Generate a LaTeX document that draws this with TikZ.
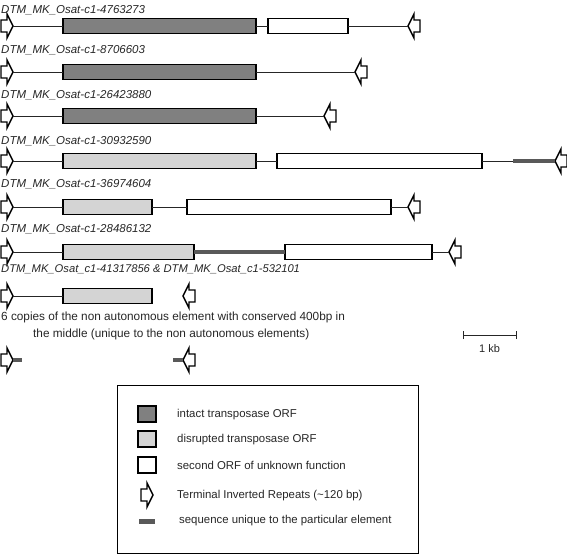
\documentclass[tikz,border=0pt]{standalone}
\usepackage{fontspec}
\setmainfont{Liberation Sans}
\definecolor{orfdark}{gray}{0.5}
\definecolor{orflight}{gray}{0.83}
\definecolor{unicol}{gray}{0.35}
\begin{document}
\begin{tikzpicture}[x=1pt,y=-1pt,
  orf/.style={draw=black, line width=1.3pt, minimum height=15pt, inner sep=0pt, outer sep=0pt, anchor=west},
  intact/.style={orf, fill=orfdark},
  disr/.style={orf, fill=orflight},
  second/.style={orf, fill=white},
  link/.style={draw=black!85, line width=1pt},
  uniq/.style={draw=unicol, line width=4pt},
  tirstyle/.style={draw=black, line width=1.4pt, fill=white, line join=miter},
  lbl/.style={font=\fontsize{11.5}{13}\selectfont\itshape, anchor=base west, inner sep=0pt, text=black!85},
  txt/.style={font=\fontsize{11.4}{13}\selectfont, anchor=base west, inner sep=0pt, text=black!85},
  desc/.style={font=\fontsize{11.8}{13}\selectfont, anchor=base west, inner sep=0pt, text=black!85},
  tirR/.pic={\draw[tirstyle] (0,-6) -- (6,-6) -- (6,-12) -- (12,0) -- (6,12) -- (6,6) -- (0,6) -- cycle; \coordinate (-tip) at (12,0);},
  tirL/.pic={\draw[tirstyle] (0,0) -- (6,-12) -- (6,-6) -- (12,-6) -- (12,6) -- (6,6) -- (6,12) -- cycle; \coordinate (-tip) at (0,0);}
]
\useasboundingbox (0,0) rectangle (567,555);

% Row 1
\node[lbl] (t1) at (1,13) {DTM\_MK\_Osat-c1-4763273};
\pic (r1) at (1,26) {tirR};
\node[intact, minimum width=193pt] (k1) at (63,26) {};
\node[second, minimum width=80pt] (s1) at (268,26) {};
\pic (l1) at (408,26) {tirL};
\draw[link] (r1-tip) -- (k1.west);
\draw[link] (k1.east) -- (s1.west);
\draw[link] (s1.east) -- (l1-tip);

% Row 2
\node[lbl] (t2) at (1,53) {DTM\_MK\_Osat-c1-8706603};
\pic (r2) at (1,72) {tirR};
\node[intact, minimum width=193pt] (k2) at (63,72) {};
\pic (l2) at (355,72) {tirL};
\draw[link] (r2-tip) -- (k2.west);
\draw[link] (k2.east) -- (l2-tip);

% Row 3
\node[lbl] (t3) at (1,98) {DTM\_MK\_Osat-c1-26423880};
\pic (r3) at (1,116) {tirR};
\node[intact, minimum width=193pt] (k3) at (63,116) {};
\pic (l3) at (324,116) {tirL};
\draw[link] (r3-tip) -- (k3.west);
\draw[link] (k3.east) -- (l3-tip);

% Row 4
\node[lbl] (t4) at (1,144) {DTM\_MK\_Osat-c1-30932590};
\pic (r4) at (1,161) {tirR};
\node[disr, minimum width=193pt] (d4) at (63,161) {};
\node[second, minimum width=205pt] (s4) at (277,161) {};
\coordinate (u4) at (513,161);
\pic (l4) at (555,161) {tirL};
\draw[link] (r4-tip) -- (d4.west);
\draw[link] (d4.east) -- (s4.west);
\draw[link] (s4.east) -- (u4);
\draw[uniq] (u4) -- (l4-tip);

% Row 5
\node[lbl] (t5) at (1,187) {DTM\_MK\_Osat-c1-36974604};
\pic (r5) at (1,207) {tirR};
\node[disr, minimum width=89pt] (d5) at (63,207) {};
\node[second, minimum width=204pt] (s5) at (187,207) {};
\pic (l5) at (408,207) {tirL};
\draw[link] (r5-tip) -- (d5.west);
\draw[link] (d5.east) -- (s5.west);
\draw[link] (s5.east) -- (l5-tip);

% Row 6
\node[lbl] (t6) at (1,232) {DTM\_MK\_Osat-c1-28486132};
\pic (r6) at (1,252) {tirR};
\node[disr, minimum width=131pt] (d6) at (63,252) {};
\node[second, minimum width=147pt] (s6) at (285,252) {};
\pic (l6) at (449,252) {tirL};
\draw[link] (r6-tip) -- (d6.west);
\draw[uniq] (d6.east) -- (s6.west);
\draw[link] (s6.east) -- (l6-tip);

% Row 7
\node[lbl, font=\fontsize{11.2}{13}\selectfont\itshape] (t7) at (1,272) {DTM\_MK\_Osat\_c1-41317856 \& DTM\_MK\_Osat\_c1-532101};
\pic (r7) at (1,296) {tirR};
\node[disr, minimum width=89pt] (d7) at (63,296) {};
\pic (l7) at (183,296) {tirL};
\draw[link] (r7-tip) -- (d7.west);

\node[desc] (n1) at (1,320) {6 copies of the non autonomous element with conserved 400bp in};
\node[desc] (n2) at (33,337) {the middle (unique to the non autonomous elements)};

% Row 8
\pic (r8) at (1,360) {tirR};
\coordinate (u8a) at (22,360);
\draw[uniq] (r8-tip) -- (u8a);
\coordinate (u8b) at (173,360);
\pic (l8) at (183,360) {tirL};
\draw[uniq] (u8b) -- (l8-tip);

% Scale bar
\coordinate (sb1) at (463,335);
\coordinate (sb2) at (516,335);
\draw[line width=1pt, black!85] (sb1) -- (sb2);
\draw[line width=1pt, black!85] ([yshift=-4pt]sb1) -- ([yshift=4pt]sb1);
\draw[line width=1pt, black!85] ([yshift=-4pt]sb2) -- ([yshift=4pt]sb2);
\node[txt, anchor=base, font=\fontsize{11}{13}\selectfont] (kb) at (489.5,352) {1 kb};

% Legend
\node[draw=black, line width=1.3pt, minimum width=301pt, minimum height=168pt, anchor=north west, inner sep=0pt] (legend) at (117,385) {};
\node[intact, minimum width=18pt, minimum height=16pt] (lk) at (138,414) {};
\node[disr, minimum width=18pt, minimum height=16pt] (ld) at (138,439) {};
\node[second, minimum width=18pt, minimum height=16pt] (ls) at (138,465) {};
\pic (lt) at (141,495) {tirR};
\node[fill=unicol, minimum width=16pt, minimum height=5pt, inner sep=0pt, anchor=west] (lu) at (139,521.5) {};
\node[txt, anchor=west] (tk) at (177,414.5) {intact transposase ORF};
\node[txt, anchor=west] (td) at (177,439.5) {disrupted transposase ORF};
\node[txt, anchor=west] (ts) at (177,465) {second ORF of unknown function};
\node[txt, anchor=west] (tt) at (177,496) {Terminal Inverted Repeats (\char"007E 120 bp)};
\node[txt, anchor=west] (tu) at (179,520.5) {sequence unique to the particular element};
\end{tikzpicture}
\end{document}
